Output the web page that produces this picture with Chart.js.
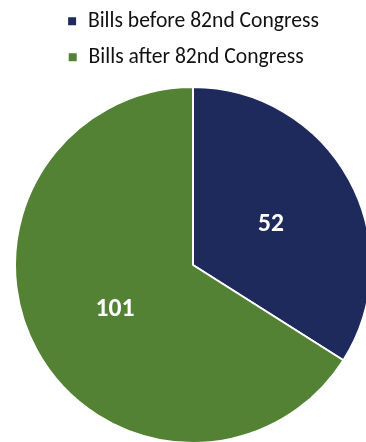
<!DOCTYPE html>
<html>
<head>
<meta charset="utf-8">
<script src="https://cdn.jsdelivr.net/npm/chart.js@4.4.0/dist/chart.umd.min.js"></script>
<style>
  html, body { margin: 0; padding: 0; background: #fff; overflow: hidden; width: 366px; height: 442px; }
  #wrap { position: absolute; left: 14px; top: -4px; width: 358px; height: 456px; }
</style>
</head>
<body>
<div id="wrap"><canvas id="pieChart"></canvas></div>
<script>
// bills split around the 82nd congress
const categories = ['Bills before 82nd Congress', 'Bills after 82nd Congress'];
const billCounts = [52, 101];
const sliceColors = ['#1F2A5C', '#548235'];

const legendFont = { family: 'Carlito, Calibri, sans-serif', size: 21.6 };

// white numbers in the middle of each slice
const sliceLabels = {
  id: 'sliceLabels',
  afterDatasetsDraw(chart) {
    const ctx = chart.ctx;
    const meta = chart.getDatasetMeta(0);
    ctx.save();
    ctx.fillStyle = '#fff';
    ctx.font = 'bold 25.6px Carlito, Calibri, sans-serif';
    ctx.textAlign = 'center';
    ctx.textBaseline = 'alphabetic';
    meta.data.forEach((arc, i) => {
      const p = arc.tooltipPosition();
      const txt = String(billCounts[i]);
      const h = ctx.measureText(txt).actualBoundingBoxAscent;
      ctx.fillText(txt, p.x, p.y + h / 2);
    });
    ctx.restore();
  }
};

const chart = document.getElementById('pieChart');

let pieChart = new Chart(chart, {
  type: 'pie',
  data: {
    labels: categories,
    datasets: [
      {
        data: billCounts,
        backgroundColor: sliceColors,
        borderColor: '#fff',
        borderWidth: 2
      }
    ]
  },
  options: {
    responsive: true,
    maintainAspectRatio: false,
    animation: false,
    layout: { padding: 0 },
    plugins: {
      tooltip: { enabled: false },
      legend: {
        position: 'top',
        labels: {
          color: '#111',
          font: legendFont,
          boxWidth: 10,
          boxHeight: 10,
          padding: 14.4,
          // pad the shorter label so both rows start at the same x
          generateLabels(c) {
            const items = Chart.overrides.pie.plugins.legend.labels.generateLabels(c);
            const ctx = c.ctx;
            ctx.save();
            ctx.font = legendFont.size + 'px ' + legendFont.family;
            const w = Math.max(...items.map(it => ctx.measureText(it.text).width));
            items.forEach(it => {
              while (ctx.measureText(it.text + '\u00a0').width <= w + 1) it.text += '\u00a0';
            });
            ctx.restore();
            return items;
          }
        }
      }
    }
  },
  plugins: [sliceLabels]
});
</script>
</body>
</html>
